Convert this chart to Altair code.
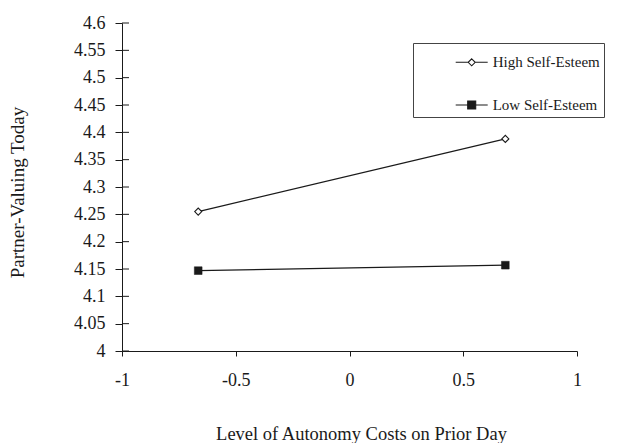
import altair as alt
import pandas as pd

# ---- data ----
groups = ["High Self-Esteem", "Low Self-Esteem"]
x_levels = [-0.665, 0.685]
high_vals = [4.255, 4.388]
low_vals = [4.147, 4.157]
y_ticks = [4.0, 4.05, 4.1, 4.15, 4.2, 4.25, 4.3, 4.35, 4.4, 4.45, 4.5, 4.55, 4.6]
x_ticks = [-1, -0.5, 0, 0.5, 1]

rows = []
for x, v in zip(x_levels, high_vals):
    rows.append({"x": x, "y": v, "group": groups[0]})
for x, v in zip(x_levels, low_vals):
    rows.append({"x": x, "y": v, "group": groups[1]})
df = pd.DataFrame(rows)
tick_df = pd.DataFrame({"t": y_ticks})

FONT = "Liberation Serif"
INK = "#1a1a1a"

xs = alt.Scale(domain=[-1, 1], nice=False, zero=False)
ys = alt.Scale(domain=[4, 4.6], nice=False, zero=False)

x_axis = alt.Axis(
    values=x_ticks, labelExpr="'' + datum.value", title="Level of Autonomy Costs on Prior Day",
    grid=False, tickSize=5, labelPadding=15, titlePadding=35, titleX=239,
    domainColor=INK, tickColor=INK, labelColor=INK, titleColor=INK,
    labelFont=FONT, titleFont=FONT, labelFontSize=18, titleFontSize=18.5,
    titleFontWeight="normal", labelFlush=False, labelOverlap=False,
)
y_axis = alt.Axis(
    values=y_ticks, format=".2~f", title="Partner-Valuing Today", orient="left",
    grid=False, tickSize=7, labelPadding=10, titlePadding=46, titleY=169,
    domainColor=INK, tickColor=INK, labelColor=INK, titleColor=INK,
    labelFont=FONT, titleFont=FONT, labelFontSize=18, titleFontSize=19,
    titleFontWeight="normal", labelFlush=False, labelOverlap=False,
)

base = alt.Chart(df)

lines = base.mark_line(color=INK, strokeWidth=1.2).encode(
    x=alt.X("x:Q", scale=xs, axis=x_axis),
    y=alt.Y("y:Q", scale=ys, axis=y_axis),
    detail="group:N",
)

# inner half of the crossing y ticks (positions from the tick values)
inner_ticks = alt.Chart(tick_df).mark_rule(color=INK, strokeWidth=1).encode(
    y=alt.Y("t:Q", scale=ys, axis=None),
    x=alt.value(0),
    x2=alt.value(7),
)

high_pts = base.transform_filter(alt.datum.group == groups[0]).mark_point(
    shape="diamond", filled=True, fill="white", stroke=INK, strokeWidth=1.1, size=50, opacity=1
).encode(
    x=alt.X("x:Q", scale=xs),
    y=alt.Y("y:Q", scale=ys, axis=None),
)

low_pts = base.transform_filter(alt.datum.group == groups[1]).mark_point(
    shape="square", filled=True, fill=INK, stroke=INK, strokeWidth=0.5, size=60, opacity=1
).encode(
    x=alt.X("x:Q", scale=xs),
    y=alt.Y("y:Q", scale=ys, axis=None),
)

high_path = "M-1,0L-0.22,0M0.22,0L1,0M0,-0.22L0.22,0L0,0.22L-0.22,0Z"
low_path = "M-1,0L1,0M-0.25,-0.25L0.25,-0.25L0.25,0.25L-0.25,0.25Z"

legend = alt.Legend(
    title=" ", titleFontSize=6, titlePadding=2.3, titleOrient="top",
    orient="none", legendX=291, legendY=20,
    strokeColor="#444", padding=3.5, symbolSize=1024, clipHeight=15,
    symbolStrokeColor=INK, symbolStrokeWidth=1.1,
    symbolOffset=38.2, labelOffset=4, rowPadding=26.7,
    labelFont=FONT, labelFontSize=15, labelColor=INK,
)

legend_layer = base.transform_filter("false").mark_point(
    filled=True, stroke=INK, strokeWidth=1.1, opacity=1
).encode(
    shape=alt.Shape("group:N", scale=alt.Scale(domain=groups, range=[high_path, low_path]), legend=legend),
    fill=alt.Fill("group:N", scale=alt.Scale(domain=groups, range=["white", INK]), legend=legend),
    stroke=alt.Stroke("group:N", scale=alt.Scale(domain=groups, range=[INK, INK]), legend=legend),
)

chart = alt.layer(lines, inner_ticks, high_pts, low_pts, legend_layer).resolve_axis(
    y="independent"
).properties(
    width=455, height=328,
    autosize=alt.AutoSizeParams(type="none"),
    padding={"left": 122, "top": 23, "right": 52, "bottom": 92},
    background="white",
).configure_view(stroke=None)

chart.save("out.html", embed_options={"renderer": "svg", "actions": False})
